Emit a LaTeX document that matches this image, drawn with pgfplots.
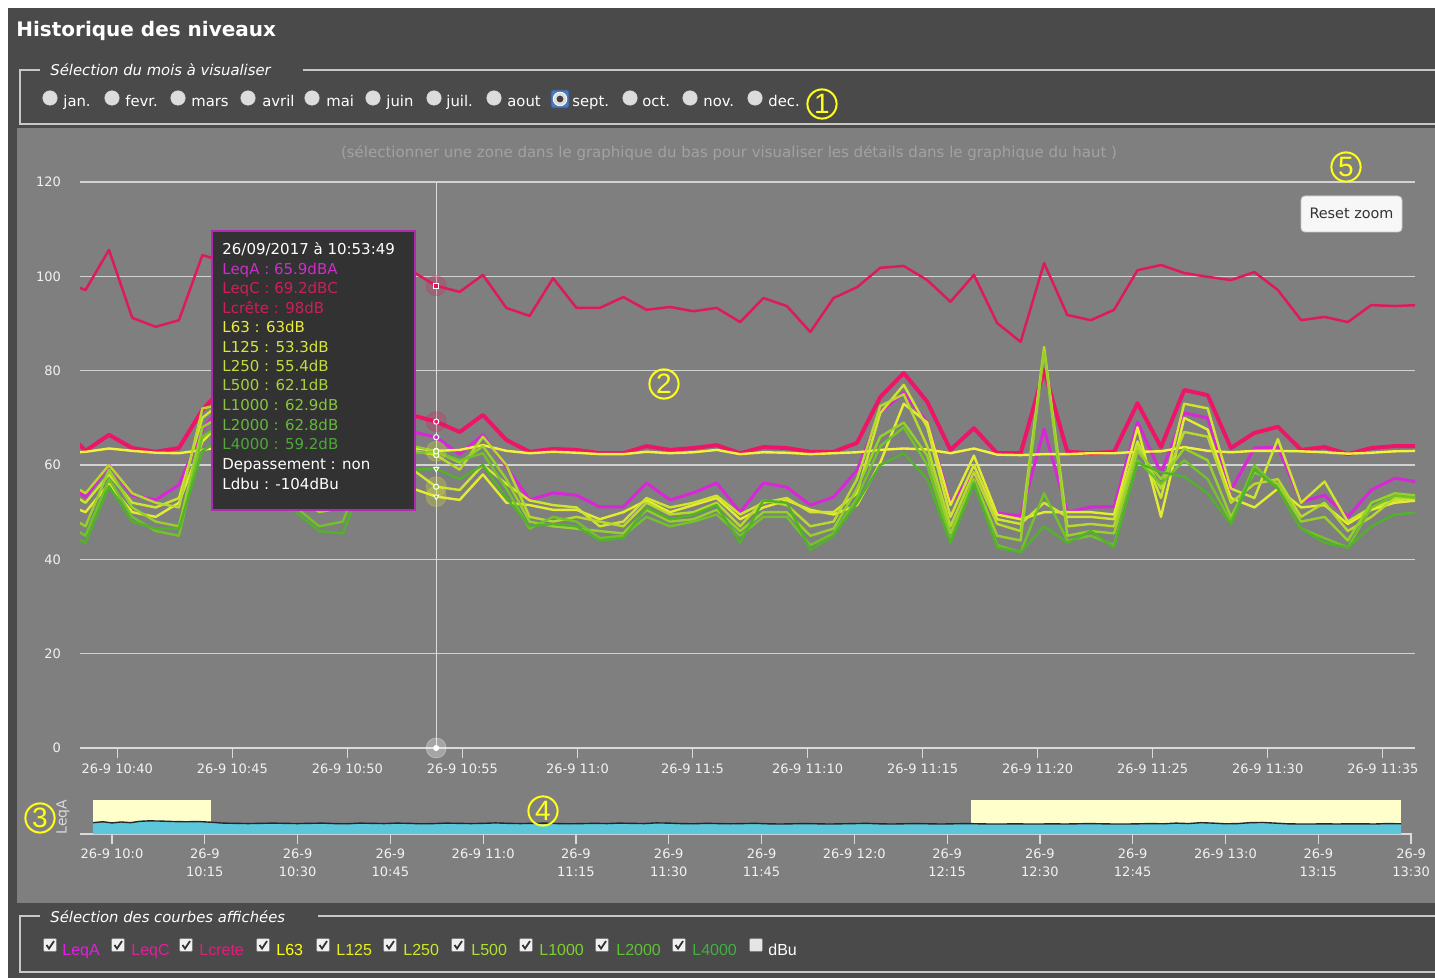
\documentclass[border=0pt]{standalone}
\usepackage{fontspec}
\setmainfont{DejaVu Sans}
\newfontfamily\lib{Liberation Sans}
\usepackage{pgfplots}
\usepackage{pgfplotstable}
\pgfplotsset{compat=1.18}

\definecolor{outer}{HTML}{4A4A4A}
\definecolor{panel}{HTML}{7F7F7F}
\definecolor{fieldline}{HTML}{C8C8C8}
\definecolor{gridc}{HTML}{D2D2D2}
\definecolor{axisc}{HTML}{DADADA}
\definecolor{tickc}{HTML}{F2F2F2}
\definecolor{crossc}{HTML}{DCDCDC}
\definecolor{subc}{HTML}{A2A2A2}
\definecolor{cretec}{HTML}{DE1A5C}
\definecolor{leqcc}{HTML}{EE1468}
\definecolor{leqac}{HTML}{D826D8}
\definecolor{lsixtythree}{HTML}{F4F23A}
\definecolor{lonetwofive}{HTML}{E4EC30}
\definecolor{ltwofifty}{HTML}{CFE42E}
\definecolor{lfivehundred}{HTML}{B6DA2C}
\definecolor{lonek}{HTML}{96D02A}
\definecolor{ltwok}{HTML}{72C22A}
\definecolor{lfourk}{HTML}{52B22A}
\definecolor{navcyan}{HTML}{5CC6DA}
\definecolor{navmask}{HTML}{FFFFCC}
\definecolor{mark}{HTML}{FFFF1A}
\definecolor{tipbg}{HTML}{323232}
\definecolor{tipborder}{HTML}{B02AB0}
\definecolor{radiofill}{HTML}{DCDCDC}
\definecolor{selblue}{HTML}{4A78B8}
% checkbox label colours
\definecolor{cbA}{HTML}{E020E0}
\definecolor{cbC}{HTML}{E0209C}
\definecolor{cbK}{HTML}{E01E7C}
\definecolor{cbs}{HTML}{FFFF10}
\definecolor{cbt}{HTML}{E6F020}
\definecolor{cbu}{HTML}{CCE828}
\definecolor{cbv}{HTML}{AEE030}
\definecolor{cbw}{HTML}{80D030}
\definecolor{cbx}{HTML}{5CC232}
\definecolor{cby}{HTML}{40B040}
% tooltip colours
\definecolor{tA}{HTML}{CC2ECC}
\definecolor{tC}{HTML}{CC1F5A}
\definecolor{ts}{HTML}{ECEC3C}
\definecolor{tt}{HTML}{D6E83C}
\definecolor{tu}{HTML}{C2DE3C}
\definecolor{tv}{HTML}{A6D23C}
\definecolor{tw}{HTML}{88C63C}
\definecolor{tx}{HTML}{64B83C}
\definecolor{ty}{HTML}{4CA838}

\pgfplotstableread{
x crete leqc leqa l63 l125 l250 l500 l1000 l2000 l4000
37.60 99.0 68.0 57.0 62.5 52.0 55.0 57.0 50.0 48.0 46.0
38.62 97.1 63.0 53.2 62.8 50.0 52.0 54.0 47.0 45.0 43.5
39.64 105.6 66.4 60.0 63.5 56.0 58.0 60.0 59.0 57.0 55.5
40.65 91.2 63.6 53.6 63.0 50.0 52.0 54.0 51.0 49.0 48.0
41.67 89.3 62.8 52.6 62.6 49.0 51.0 52.0 48.0 46.0 46.5
42.68 90.7 63.6 55.8 62.5 52.0 53.0 51.0 47.0 45.0 46.5
43.70 104.5 71.7 67.4 63.2 65.0 70.0 72.0 68.0 66.0 63.0
44.72 103.0 77.0 74.0 64.0 70.0 74.0 73.0 71.0 69.0 66.0
45.73 101.0 76.0 72.0 64.0 67.0 71.0 71.0 69.0 68.0 65.0
46.75 99.0 74.0 68.0 63.5 62.0 64.0 65.0 63.0 61.0 60.0
47.76 97.0 72.0 60.0 63.0 55.0 56.0 57.0 53.0 51.0 50.0
48.78 98.0 70.0 56.0 63.0 52.0 53.0 52.0 50.0 47.0 46.0
49.80 96.0 71.0 58.0 63.0 53.0 54.0 55.0 51.0 48.0 45.5
50.81 99.0 73.0 66.0 63.2 57.0 60.0 62.0 61.0 60.0 58.0
51.83 100.0 72.0 68.0 63.5 58.0 62.0 65.0 64.0 63.0 60.0
52.84 101.0 70.5 67.0 63.6 55.0 59.0 63.0 64.0 62.5 59.0
53.86 98.0 69.2 65.9 63.0 53.3 55.4 62.1 62.9 62.8 59.2
54.88 96.7 67.0 62.3 63.2 52.6 54.7 59.0 60.5 61.0 57.0
55.89 100.3 70.6 66.4 64.2 58.0 60.0 66.0 64.0 62.5 60.0
56.91 93.3 65.3 59.6 63.0 52.0 56.0 60.0 57.0 55.0 53.0
57.92 91.6 62.8 52.6 62.5 51.5 52.5 49.0 48.0 46.5 47.0
58.94 99.6 63.4 54.1 62.8 50.5 51.5 48.0 47.0 49.0 47.5
59.96 93.3 63.2 53.6 62.6 50.5 51.0 49.0 46.5 48.0 47.0
60.97 93.3 62.5 51.1 62.3 48.5 47.0 48.0 46.0 44.5 44.0
61.99 95.6 62.5 51.1 62.3 50.0 48.0 47.0 45.5 45.0 44.5
63.00 92.9 64.0 56.2 62.8 52.5 53.0 52.0 50.5 49.0 51.0
64.02 93.5 63.2 52.6 62.5 50.0 51.0 49.5 48.0 47.0 48.5
65.04 92.6 63.6 54.1 62.7 51.5 52.0 50.0 48.5 48.0 49.5
66.05 93.3 64.2 56.2 63.2 53.0 53.5 52.0 50.5 49.5 51.5
67.07 90.3 62.5 50.0 62.3 48.5 49.5 47.0 46.0 45.0 43.5
68.08 95.4 63.8 56.2 62.7 51.0 52.0 52.5 50.0 49.0 52.5
69.10 93.7 63.6 55.3 62.6 52.5 53.0 51.5 50.0 49.0 52.0
70.12 88.2 62.8 51.5 62.3 50.5 50.0 47.0 45.0 43.0 42.0
71.13 95.4 62.8 53.2 62.5 49.5 50.0 48.0 46.5 45.5 45.0
72.15 97.7 64.7 58.9 62.7 51.5 54.0 57.0 55.0 53.0 52.0
73.16 101.8 74.4 71.2 63.2 60.5 71.0 72.5 66.0 64.0 60.0
74.18 102.2 79.5 75.3 63.5 73.0 77.0 75.0 69.0 68.0 62.5
75.20 99.2 73.4 69.1 63.3 69.0 68.0 64.0 62.0 60.0 57.0
76.21 94.6 63.2 51.9 62.5 51.5 49.0 47.0 45.5 44.0 43.5
77.23 100.3 67.8 58.3 63.5 62.0 60.0 58.5 57.0 56.5 56.0
78.24 90.1 62.5 49.8 62.2 49.5 48.5 47.5 45.0 43.0 42.5
79.26 86.1 62.5 49.2 62.1 48.5 47.5 46.0 44.0 41.5 41.5
80.28 102.8 80.1 67.6 62.3 50.0 52.0 85.0 84.0 54.0 47.0
81.29 91.8 62.8 50.0 62.3 50.0 49.0 47.0 45.0 44.0 43.5
82.31 90.7 62.5 51.1 62.5 50.0 49.0 47.5 46.0 45.0 46.0
83.32 92.9 62.8 51.1 62.5 49.5 48.5 47.0 45.5 43.0 42.5
84.34 101.3 73.1 69.1 62.8 68.0 65.0 64.0 63.0 61.0 60.5
85.36 102.4 63.8 58.3 62.9 49.0 53.0 55.0 57.0 56.0 58.5
86.37 100.7 75.9 71.0 63.8 70.0 73.0 67.0 63.5 61.0 57.5
87.39 99.9 74.8 70.0 63.0 67.5 72.0 66.0 61.0 57.0 54.0
88.40 99.2 63.6 54.7 62.7 53.0 55.0 52.0 49.0 48.0 47.5
89.42 100.9 66.8 63.6 63.0 51.0 53.0 56.0 58.5 60.0 59.0
90.44 97.1 68.1 63.8 63.0 55.0 65.5 57.0 56.0 55.0 55.0
91.45 90.7 63.2 52.2 62.9 51.0 52.0 49.0 48.0 46.5 46.5
92.47 91.4 63.8 53.6 62.7 51.5 56.5 52.0 49.0 44.5 43.5
93.48 90.3 62.3 49.0 62.4 47.5 48.0 46.0 44.0 42.5 42.5
94.50 93.9 63.6 54.7 62.6 50.5 51.0 49.0 52.0 51.0 47.0
95.52 93.7 64.0 57.2 62.9 52.0 52.5 53.0 54.0 53.5 49.5
96.53 93.9 64.0 56.4 63.0 52.5 53.0 53.0 53.5 53.0 50.0
}\maindata

\pgfplotstableread{
x leqa
-3.07 50
-1.5 54
0 49
1.5 53
3 50
4.5 56
6 58
8 57
10 55
12 54
14 55
16 52
18 48
20 47
22 46
24 47
26 48
28 47
30 46
32 47
34 48
36 46
38 45
40 48
42 47
44 46
46 48
48 47
50 45
52 46
54 48
56 47
58 46
60 47
62 49
64 47
66 46
68 47
70 48
72 46
74 45
76 46
78 47
80 46
82 48
84 47
86 46
88 49
90 48
92 46
94 45
96 47
98 46
100 45
102 46
104 47
106 45
108 44
110 45
112 46
114 45
116 44
118 45
120 46
122 47
124 45
126 44
128 45
130 46
132 45
134 44
136 45
138 46
140 45
142 44
144 44
146 45
148 44
150 44
152 45
154 44
156 45
158 46
160 45
162 44
164 44
166 45
168 46
170 45
172 48
174 46
176 50
178 48
180 45
182 46
184 50
186 51
188 48
190 45
192 44
194 44
196 45
198 44
200 45
202 45
204 44
206 46
208.4 45
}\navdata

\tikzset{
  radio/.style={fill=radiofill, draw=white!70!gray, line width=0.3pt},
  rlab/.style={anchor=base west, inner sep=0pt, text=white, font=\fontsize{7.4}{9}\selectfont},
  ttn/.style={anchor=base west, inner sep=0pt, font=\fontsize{7.5}{9}\selectfont},
  cbl/.style={anchor=base west, inner sep=0pt, font=\lib\fontsize{8}{9}\selectfont},
  numc/.style={draw=mark, line width=1pt},
  numt/.style={text=mark, inner sep=0pt, font=\lib\fontsize{14}{14}\selectfont},
}
\newcommand{\cb}[1]{\filldraw[fill=white!94!black, draw=gray, line width=0.3pt, rounded corners=0.6pt] (#1-6.5,938.5) rectangle (#1+6.5,951.5);
  \draw[black!80, line width=0.9pt] (#1-3.5,945) -- (#1-1,948.5) -- (#1+4,941);}

\begin{document}
\begin{tikzpicture}
\begin{scope}[x=0.5pt,y=-0.5pt]
\fill[white] (0,0) rectangle (1435,978);
\fill[outer] (8,8) rectangle (1435,978);
\node[anchor=base west, inner sep=0pt, text=white, font=\fontsize{10}{12}\selectfont\bfseries] at (16,37) {Historique des niveaux};
% fieldset 1
\draw[fieldline, line width=0.7pt] (40,70) -- (20,70) -- (20,124) -- (1435,124);
\draw[fieldline, line width=0.7pt] (303,70) -- (1435,70);
\node[anchor=base west, inner sep=0pt, text=white, font=\fontsize{7.4}{9}\selectfont\itshape] at (50,76) {Sélection du mois à visualiser};
\foreach \cx/\lx/\lab in {50/63/jan., 112/125/fevr., 178/191/mars, 248/262/avril, 312/326/mai, 373/386/juin, 434/446/juil., 494/507/aout, 630/642/oct., 690/703/nov., 755/768/dec.}{
  \filldraw[radio] (\cx,98) circle (3.6pt);
  \node[rlab] at (\lx,107) {\lab};
}
\filldraw[fill=selblue, draw=selblue!70!black, rounded corners=1pt] (551,90) rectangle (569,108);
\filldraw[fill=radiofill, draw=white] (560,99) circle (3.4pt);
\fill[black!75] (560,99) circle (1.7pt);
\node[rlab] at (572,107) {sept.};
% grey panel
\fill[panel] (17,128) rectangle (1435,903);
\node[text=subc, font=\fontsize{7.5}{9}\selectfont] at (729,153) {(sélectionner une zone dans le graphique du bas pour visualiser les détails dans le graphique du haut )};
% fieldset 2
\draw[fieldline, line width=0.7pt] (40,916) -- (20,916) -- (20,972) -- (1435,972);
\draw[fieldline, line width=0.7pt] (318,916) -- (1435,916);
\node[anchor=base west, inner sep=0pt, text=white, font=\fontsize{7.4}{9}\selectfont\itshape] at (50,922) {Sélection des courbes affichées};
\cb{50}\cb{118}\cb{186}\cb{263}\cb{323}\cb{390}\cb{458}\cb{526}\cb{602}\cb{679}
\filldraw[fill=white!90!black, draw=gray, line width=0.3pt, rounded corners=0.6pt] (749.5,938.5) rectangle (762.5,951.5);
\node[cbl, text=cbA] at (62,955) {LeqA};
\node[cbl, text=cbC] at (131,955) {LeqC};
\node[cbl, text=cbK] at (199,955) {Lcrete};
\node[cbl, text=cbs] at (276,955) {L63};
\node[cbl, text=cbt] at (336,955) {L125};
\node[cbl, text=cbu] at (403,955) {L250};
\node[cbl, text=cbv] at (471,955) {L500};
\node[cbl, text=cbw] at (539,955) {L1000};
\node[cbl, text=cbx] at (616,955) {L2000};
\node[cbl, text=cby] at (692,955) {L4000};
\node[cbl, text=white] at (768,955) {dBu};
\node[rotate=90, text=black!15, font=\fontsize{7}{8}\selectfont] at (63,817) {LeqA};
\end{scope}

\begin{axis}[
  at={(40pt,-374pt)}, anchor=south west,
  scale only axis, width=667.5pt, height=283pt,
  xmin=38.38, xmax=96.4, ymin=0, ymax=120,
  axis lines*=left,
  y axis line style={draw=none},
  x axis line style={draw=axisc, line width=1pt},
  xtick={40,45,...,95},
  xticklabels={26-9 10:40,26-9 10:45,26-9 10:50,26-9 10:55,26-9 11:0,26-9 11:5,26-9 11:10,26-9 11:15,26-9 11:20,26-9 11:25,26-9 11:30,26-9 11:35},
  ytick={0,20,...,120},
  ymajorgrids, grid style={draw=gridc, line width=0.6pt},
  tick align=outside, major tick length=5pt,
  xtick style={draw=axisc, line width=0.6pt},
  ytick style={draw=none},
  ticklabel style={font=\fontsize{6.5}{9}\selectfont, text=tickc},
  xticklabel style={yshift=0.5pt},
  yticklabel style={xshift=-1pt},
  /pgf/number format/assume math mode=true,
]
\addplot[crossc, line width=0.6pt, mark=none] coordinates {(53.86,0) (53.86,120)};
\addplot[leqac, line width=1.5pt, mark=none, line join=round] table[x=x, y=leqa] {\maindata};
\addplot[leqcc, line width=2pt, mark=none, line join=round] table[x=x, y=leqc] {\maindata};
\addplot[cretec, line width=1.25pt, mark=none, line join=round] table[x=x, y=crete] {\maindata};
\addplot[lsixtythree, line width=1.2pt, mark=none, line join=round] table[x=x, y=l63] {\maindata};
\addplot[lonetwofive, line width=1.2pt, mark=none, line join=round] table[x=x, y=l125] {\maindata};
\addplot[ltwofifty, line width=1.2pt, mark=none, line join=round] table[x=x, y=l250] {\maindata};
\addplot[lfivehundred, line width=1.2pt, mark=none, line join=round] table[x=x, y=l500] {\maindata};
\addplot[lonek, line width=1.2pt, mark=none, line join=round] table[x=x, y=l1000] {\maindata};
\addplot[ltwok, line width=1.2pt, mark=none, line join=round] table[x=x, y=l2000] {\maindata};
\addplot[lfourk, line width=1.2pt, mark=none, line join=round] table[x=x, y=l4000] {\maindata};
% hover halos and markers
\addplot[only marks, mark=*, mark size=5pt, color=cretec, opacity=0.25] coordinates {(53.86,98) (53.86,69.2)};
\addplot[only marks, mark=*, mark size=5pt, color=lonetwofive, opacity=0.25] coordinates {(53.86,53.3) (53.86,55.4) (53.86,62.9)};
\addplot[only marks, mark=*, mark size=5pt, color=white, opacity=0.3] coordinates {(53.86,0)};
\addplot[only marks, mark=square*, mark size=1.3pt, color=white, mark options={fill=cretec, line width=0.5pt}] coordinates {(53.86,98)};
\addplot[only marks, mark=*, mark size=1.3pt, color=white, mark options={fill=leqcc, line width=0.5pt}] coordinates {(53.86,69.2)};
\addplot[only marks, mark=*, mark size=1.3pt, color=white, mark options={fill=leqac, line width=0.5pt}] coordinates {(53.86,65.9)};
\addplot[only marks, mark=*, mark size=1.3pt, color=white, mark options={fill=lonek, line width=0.5pt}] coordinates {(53.86,63) (53.86,62.1) (53.86,62.9) (53.86,55.4)};
\addplot[only marks, mark=triangle*, mark size=1.5pt, color=white, mark options={fill=ltwok, line width=0.5pt, rotate=180}] coordinates {(53.86,59.2) (53.86,53.3)};
\addplot[only marks, mark=*, mark size=1.3pt, color=white] coordinates {(53.86,0)};
\end{axis}

\begin{axis}[
  at={(40pt,-417pt)}, anchor=south west,
  scale only axis, width=666pt, height=17pt,
  xmin=-5.17, xmax=210.15, ymin=0, ymax=150,
  axis lines*=left,
  y axis line style={draw=none},
  x axis line style={draw=axisc, line width=0.8pt},
  xtick={0,15,...,210},
  xticklabels={26-9 10:0,{26-9\\10:15},{26-9\\10:30},{26-9\\10:45},26-9 11:0,{26-9\\11:15},{26-9\\11:30},{26-9\\11:45},26-9 12:0,{26-9\\12:15},{26-9\\12:30},{26-9\\12:45},26-9 13:0,{26-9\\13:15},{26-9\\13:30}},
  ytick=\empty,
  tick align=outside, major tick length=5pt,
  xtick style={draw=axisc, line width=0.6pt},
  xticklabel style={font=\fontsize{6.5}{9}\selectfont, text=tickc, align=center, yshift=1pt},
]
\fill[navmask] (axis cs:-3.07,0) rectangle (axis cs:16.0,150);
\fill[navmask] (axis cs:138.9,0) rectangle (axis cs:208.4,150);
\addplot[draw=none, fill=navcyan, mark=none] table[x=x, y=leqa] {\navdata} \closedcycle;
\addplot[black!85, line width=0.7pt, mark=none] table[x=x, y=leqa] {\navdata};
\end{axis}

\begin{scope}[x=0.5pt,y=-0.5pt]
% tooltip
\filldraw[fill=tipbg, draw=tipborder, line width=1pt] (212,231) rectangle (415,510);
\node[ttn, text=white] at (222,255) {26/09/2017 à 10:53:49};
\node[ttn, text=tA] at (222,275) {LeqA : 65.9dBA};
\node[ttn, text=tC] at (222,294) {LeqC : 69.2dBC};
\node[ttn, text=tC] at (222,314) {Lcrête : 98dB};
\node[ttn, text=ts] at (222,333) {L63 : 63dB};
\node[ttn, text=tt] at (222,353) {L125 : 53.3dB};
\node[ttn, text=tu] at (222,372) {L250 : 55.4dB};
\node[ttn, text=tv] at (222,391) {L500 : 62.1dB};
\node[ttn, text=tw] at (222,411) {L1000 : 62.9dB};
\node[ttn, text=tx] at (222,430) {L2000 : 62.8dB};
\node[ttn, text=ty] at (222,450) {L4000 : 59.2dB};
\node[ttn, text=white] at (222,470) {Depassement : non};
\node[ttn, text=white] at (222,489) {Ldbu : -104dBu};
% reset zoom button
\filldraw[fill=white!97!black, draw=black!20, rounded corners=2pt] (1301,196) rectangle (1402,232);
\node[text=black!80, font=\fontsize{7.2}{8}\selectfont] at (1351.5,213) {Reset zoom};
% circled numbers
\draw[numc] (822,104) circle (7.3pt); \node[numt] at (822,104) {1};
\draw[numc] (664,384) circle (7.3pt); \node[numt] at (664,384) {2};
\draw[numc] (40,818) circle (7.3pt); \node[numt] at (40,818) {3};
\draw[numc] (543,811) circle (7.3pt); \node[numt] at (543,811) {4};
\draw[numc] (1346,167) circle (7.3pt); \node[numt] at (1346,167) {5};
\end{scope}
\pgfresetboundingbox
\path[use as bounding box] (0pt,0pt) rectangle (717.5pt,-489pt);
\end{tikzpicture}
\end{document}
